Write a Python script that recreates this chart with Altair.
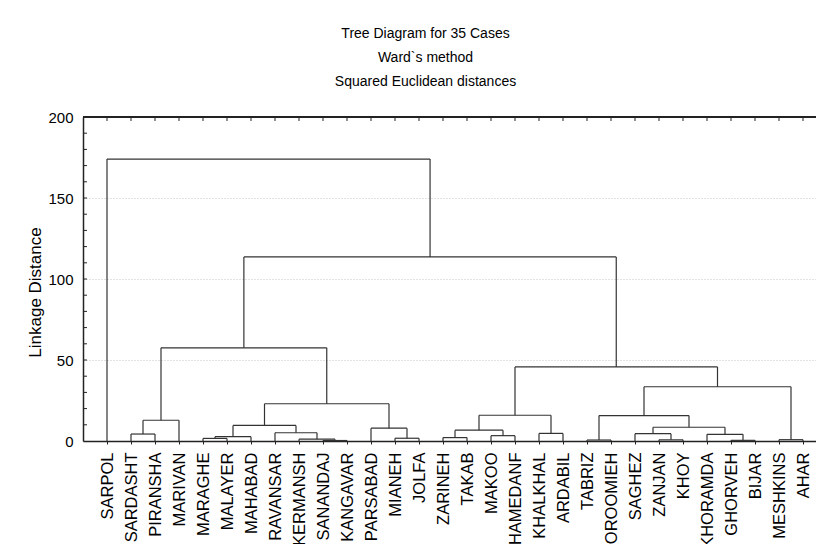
import altair as alt
import pandas as pd

# ---- data ----
leaves = ["SARPOL", "SARDASHT", "PIRANSHA", "MARIVAN", "MARAGHE", "MALAYER",
          "MAHABAD", "RAVANSAR", "KERMANSH", "SANANDAJ", "KANGAVAR", "PARSABAD",
          "MIANEH", "JOLFA", "ZARINEH", "TAKAB", "MAKOO", "HAMEDANF", "KHALKHAL",
          "ARDABIL", "TABRIZ", "OROOMIEH", "SAGHEZ", "ZANJAN", "KHOY", "KHORAMDA",
          "GHORVEH", "BIJAR", "MESHKINS", "AHAR"]

merge_name = ["A", "B", "C", "D", "F", "G", "E", "H", "I", "J", "K", "L",
              "N", "O", "P", "Q", "R",
              "S", "W", "V", "Z", "Y", "X", "T",
              "BB", "AA", "CC", "M", "ROOT"]
merge_a = ["SARDASHT", "A", "MARAGHE", "C", "SANANDAJ", "KERMANSH", "RAVANSAR", "D",
           "MIANEH", "PARSABAD", "H", "B",
           "ZARINEH", "MAKOO", "N", "KHALKHAL", "P",
           "TABRIZ", "ZANJAN", "SAGHEZ", "GHORVEH", "KHORAMDA", "V", "S",
           "MESHKINS", "T", "R", "L", "SARPOL"]
merge_b = ["PIRANSHA", "MARIVAN", "MALAYER", "MAHABAD", "KANGAVAR", "F", "G", "E",
           "JOLFA", "I", "J", "K",
           "TAKAB", "HAMEDANF", "O", "ARDABIL", "Q",
           "OROOMIEH", "KHOY", "W", "BIJAR", "Z", "Y", "X",
           "AHAR", "BB", "AA", "CC", "M"]
merge_height = [4.3, 12.8, 1.6, 2.7, 0.3, 1.1, 5.1, 9.6, 1.7, 7.9, 23.0, 57.5,
                2.1, 3.3, 6.7, 4.7, 15.9,
                0.6, 0.7, 4.5, 0.4, 4.1, 8.5, 15.7,
                0.8, 33.5, 45.7, 113.6, 174.0]

y_ticks = [0, 50, 100, 150, 200]
y_minor = [10, 20, 30, 40, 50, 60, 70, 80, 90, 100, 110, 120, 130, 140, 150,
           160, 170, 180, 190]

# ---- build the dendrogram segments ----
pos = {name: i for i, name in enumerate(leaves)}
hgt = {name: 0.0 for name in leaves}
segs = []
for nm, a, b, h in zip(merge_name, merge_a, merge_b, merge_height):
    xa, xb = pos[a], pos[b]
    segs.append({"x": xa, "x2": xa, "y": hgt[a], "y2": h})
    segs.append({"x": xb, "x2": xb, "y": hgt[b], "y2": h})
    segs.append({"x": xa, "x2": xb, "y": h, "y2": h})
    pos[nm] = (xa + xb) / 2
    hgt[nm] = h
seg_df = pd.DataFrame(segs)
leaf_df = pd.DataFrame({"i": list(range(len(leaves))), "name": leaves})
minor_df = pd.DataFrame({"v": y_minor})

W, H = 733, 324
FONT = "Liberation Sans"
LINE = "#333333"

xscale = alt.Scale(domain=[-1, -1 + W / 24.0], nice=False, zero=False)
yscale = alt.Scale(domain=[0, 200], nice=False)

names_js = "[" + ",".join("'" + n + "'" for n in leaves) + "]"

xaxis = alt.Axis(values=list(range(len(leaves))), title=None,
                 labelExpr=names_js + "[datum.value]",
                 labelAngle=270, labelAlign="right", labelBaseline="middle",
                 labelFontSize=16.5, labelFont=FONT, labelColor="black",
                 labelPadding=8, tickSize=3, tickColor="#222",
                 domainColor="#222", domainWidth=1.5, grid=False,
                 labelOverlap=False, labelBound=False, labelFlush=False)
yaxis = alt.Axis(values=y_ticks, title="Linkage Distance",
                 titleFont=FONT, titleFontSize=17, titleFontWeight="normal",
                 titleColor="black", titleAngle=270, titleAlign="center",
                 titleBaseline="middle", titleX=-48, titleY=175,
                 labelFont=FONT, labelFontSize=15, labelColor="black",
                 labelPadding=10, tickSize=0, domainColor="#222",
                 domainWidth=1.5, grid=True, gridColor="#c4c4c4",
                 gridDash=[1, 2], gridWidth=1, labelOverlap=False)

tree = alt.Chart(seg_df).mark_rule(color=LINE, strokeWidth=1.2).encode(
    x=alt.X("x:Q", scale=xscale, axis=xaxis),
    x2="x2:Q",
    y=alt.Y("y:Q", scale=yscale, axis=yaxis),
    y2="y2:Q",
)

minor = alt.Chart(minor_df).mark_rule(color="#222", strokeWidth=1).encode(
    y=alt.Y("v:Q", scale=yscale, axis=yaxis), x=alt.value(0), x2=alt.value(4))

top_ticks = alt.Chart(leaf_df).mark_rule(color="#222", strokeWidth=1).encode(
    x=alt.X("i:Q", scale=xscale, axis=xaxis), y=alt.value(0), y2=alt.value(4))

top_border = alt.Chart(leaf_df.head(1)).mark_rule(color="#222", strokeWidth=2).encode(
    x=alt.value(0), x2=alt.value(W), y=alt.value(0))

chart = alt.layer(tree, minor, top_ticks, top_border).properties(
    width=W, height=H,
    autosize=alt.AutoSizeParams(type="none"),
    padding={"left": 75, "top": 109, "right": 0, "bottom": 103},
    title=alt.TitleParams(
        text=["Tree Diagram for 35 Cases", "Ward`s method", "Squared Euclidean distances"],
        font=FONT, fontSize=14, fontWeight="normal", color="black",
        lineHeight=24, anchor="middle", frame="group", dx=-24, offset=21),
).configure_view(stroke="transparent", strokeWidth=0, fill="#e8e8e8").configure(background="white"
).configure_axisX(grid=False, labelOverlap=False).configure_axisY(labelOverlap=False)

chart.save("out.html", embed_options={"renderer": "svg", "actions": False})
